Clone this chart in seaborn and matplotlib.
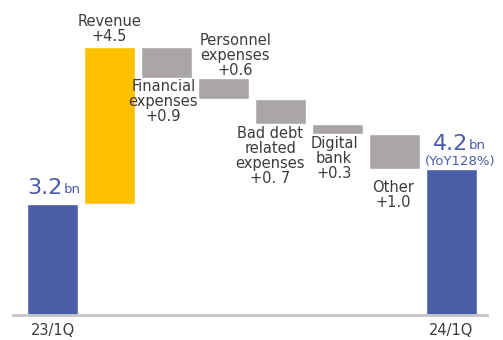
import matplotlib
matplotlib.use("Agg")
import matplotlib.pyplot as plt
import seaborn as sns
import pandas as pd

# ---------------- data ----------------
categories = ["23/1Q", "Revenue", "Financial expenses", "Personnel expenses",
              "Bad debt related expenses", "Digital bank", "Other", "24/1Q"]
start_value = 3.2
changes = [4.5, -0.9, -0.6, -0.7, -0.3, -1.0]
end_value = 4.2
tick_labels = ["23/1Q", "", "", "", "", "", "", "24/1Q"]
step_labels = ["Revenue\n+4.5", "Financial\nexpenses\n+0.9", "Personnel\nexpenses\n+0.6",
               "Bad debt\nrelated\nexpenses\n+0. 7", "Digital\nbank\n+0.3", "Other\n+1.0"]
start_label = "3.2"
end_label = "4.2"
unit_label = "bn"
yoy_label = "(YoY128%)"

# ---------------- style ----------------
BLUE = "#4a5da7"
BLUE_TXT = "#4a5aa8"
YELLOW = "#ffc000"
GREY = "#aaa6a6"
TXT = "#3c3c3c"
# (dx px, dy px, side)
label_offsets = [(0, 3, "above"), (-3, -1, "below"), (12, 0, "above"),
                 (-10, -2, "below"), (-3, -2, "below"), (-1, -11, "below")]

sns.set_style("white")
plt.rcParams["font.family"] = ["DejaVu Sans"]

# waterfall geometry derived from data
bottoms = [0.0]
heights = [start_value]
level = start_value
for c in changes:
    new = level + c
    bottoms.append(min(level, new))
    heights.append(abs(c))
    level = new
bottoms.append(0.0)
heights.append(end_value)
df = pd.DataFrame({"cat": categories, "height": heights, "bottom": bottoms})
bar_colors = [BLUE, YELLOW] + [GREY] * (len(changes) - 1) + [BLUE]

fig = plt.figure(figsize=(5.03, 3.40), dpi=100)
ax = fig.add_axes([13 / 503, 25 / 340, 474 / 503, 315 / 340])
sns.barplot(data=df, x="cat", y="height", order=categories, bottom=df["bottom"].values,
            width=0.9, color=GREY, edgecolor="white", linewidth=1, errorbar=None, ax=ax)
for p, c in zip(ax.patches, bar_colors):
    p.set_facecolor(c)

ax.set_xlim(-0.694, 7.63)
ax.set_ylim(0, 315 / 34.8)
ax.set_xlabel("")
ax.set_ylabel("")
ax.set_yticks([])
ax.set_xticks(range(len(categories)))
ax.set_xticklabels(tick_labels, fontsize=10.5, color=TXT)
ax.tick_params(axis="x", length=0, pad=6)
for s in ["top", "left", "right"]:
    ax.spines[s].set_visible(False)
ax.spines["bottom"].set_color("#c4c4c4")
ax.spines["bottom"].set_linewidth(2)

px = 0.72  # points per pixel
for i, (lab, (dx, dy, side)) in enumerate(zip(step_labels, label_offsets)):
    idx = i + 1
    if side == "above":
        yv = bottoms[idx] + heights[idx]
        va = "bottom"
    else:
        yv = bottoms[idx]
        va = "top"
    ax.annotate(lab, xy=(idx, yv), xytext=(dx * px, dy * px), textcoords="offset points",
                ha="center", va=va, fontsize=10.5, color=TXT, linespacing=1.0)

# totals
t1 = ax.annotate(start_label, xy=(0 - 0.45, start_value), xytext=(0, 6 * px),
                 textcoords="offset points", ha="left", va="bottom",
                 fontsize=16, color=BLUE_TXT)
ax.annotate(unit_label, xy=(1, 0), xycoords=t1, xytext=(1, 1), textcoords="offset points",
            ha="left", va="bottom", fontsize=9.5, color=BLUE_TXT)
n = len(categories) - 1
t2 = ax.annotate(end_label, xy=(n - 0.45, end_value), xytext=(7 * px, 15 * px),
                 textcoords="offset points", ha="left", va="bottom",
                 fontsize=16, color=BLUE_TXT)
ax.annotate(unit_label, xy=(1, 0), xycoords=t2, xytext=(1, 1), textcoords="offset points",
            ha="left", va="bottom", fontsize=9.5, color=BLUE_TXT)
ax.annotate(yoy_label, xy=(n, end_value), xytext=(9 * px, 1 * px),
            textcoords="offset points", ha="center", va="bottom",
            fontsize=9.5, color=BLUE_TXT)

fig.savefig("out.png", dpi=100)
